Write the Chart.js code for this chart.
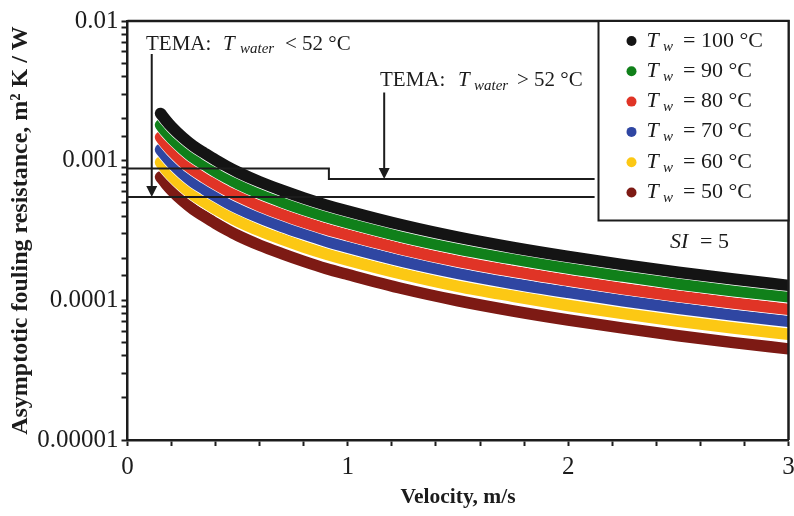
<!DOCTYPE html>
<html>
<head>
<meta charset="utf-8">
<script src="https://cdn.jsdelivr.net/npm/chart.js@4.4.0/dist/chart.umd.min.js"></script>
<style>
  html, body { margin: 0; padding: 0; background: #fff; }
  #wrap { width: 794px; height: 516px; }
</style>
</head>
<body>
<div id="wrap"><canvas id="c" width="794" height="516"></canvas></div>
<script>
// Flow velocity (m/s)
const velocity = [0.15, 0.175, 0.2, 0.25, 0.3, 0.35, 0.4, 0.45, 0.5, 0.6, 0.7, 0.8, 0.9, 1.0, 1.25, 1.5, 1.75, 2.0, 2.25, 2.5, 2.75, 3.0];

// Asymptotic fouling resistance (m2 K / W), SI = 5
const rf100 = [0.00218, 0.00194, 0.00175, 0.00147, 0.00127, 0.00113, 0.00101, 0.000912, 0.000830, 0.000706, 0.000614, 0.000541, 0.000482, 0.000435, 0.000345, 0.000283, 0.000239, 0.000206, 0.000180, 0.000159, 0.000142, 0.000128];
const rf90  = [0.00180, 0.00160, 0.00145, 0.00122, 0.00105, 0.000935, 0.000835, 0.000754, 0.000686, 0.000584, 0.000508, 0.000447, 0.000399, 0.000360, 0.000285, 0.000234, 0.000198, 0.000170, 0.000149, 0.000131, 0.000117, 0.000106];
const rf80  = [0.00147, 0.00131, 0.00118, 0.000989, 0.000855, 0.000760, 0.000680, 0.000614, 0.000559, 0.000475, 0.000413, 0.000364, 0.000324, 0.000293, 0.000232, 0.000190, 0.000161, 0.000139, 0.000121, 0.000107, 0.0000956, 0.0000861];
const rf70  = [0.00120, 0.00107, 0.000966, 0.000811, 0.000701, 0.000624, 0.000558, 0.000503, 0.000458, 0.000390, 0.000339, 0.000299, 0.000266, 0.000240, 0.000190, 0.000156, 0.000132, 0.000114, 0.0000994, 0.0000878, 0.0000784, 0.0000707];
const rf60  = [0.000972, 0.000865, 0.000781, 0.000656, 0.000566, 0.000504, 0.000450, 0.000407, 0.000370, 0.000315, 0.000274, 0.000241, 0.000215, 0.000194, 0.000154, 0.000126, 0.000107, 0.0000919, 0.0000803, 0.0000709, 0.0000633, 0.0000571];
const rf50  = [0.000765, 0.000681, 0.000614, 0.000516, 0.000446, 0.000397, 0.000355, 0.000320, 0.000291, 0.000248, 0.000216, 0.000190, 0.000169, 0.000153, 0.000121, 0.0000993, 0.0000839, 0.0000723, 0.0000632, 0.0000558, 0.0000498, 0.0000449];

const seriesTemps = ['100', '90', '80', '70', '60', '50'];
const seriesValues = [rf100, rf90, rf80, rf70, rf60, rf50];
const seriesColors = ['#141414', '#10801a', '#e03426', '#2f46a2', '#fcc814', '#7d1a14'];

// TEMA design fouling resistances
const temaHighX = [0, 0.914, 0.914, 2.12];
const temaHighY = [0.00088, 0.00088, 0.00074, 0.00074];
const temaLowX = [0, 2.12];
const temaLowY = [0.00055, 0.00055];
const arrowX = [0.11, 1.165];

// Axis labels
const xTickLabels = ['0', '1', '2', '3'];
const yTickLabels = ['0.00001', '0.0001', '0.001', '0.01'];

const SERIF = '"Liberation Serif", "Times New Roman", serif';
const INK = '#1c1c1c';

const toPoints = (xs, ys) => xs.map((x, i) => ({ x: x, y: ys[i] }));

const datasets = [];
seriesValues.forEach((vals, i) => {
  const pts = toPoints(velocity, vals);
  datasets.push({
    label: 'Tw = ' + seriesTemps[i] + ' °C',
    data: pts,
    borderColor: seriesColors[i],
    borderWidth: 11.5,
    borderCapStyle: 'round',
    borderJoinStyle: 'round',
    cubicInterpolationMode: 'monotone',
    pointRadius: 0,
    clip: 0,
    order: 2 * i
  });
  datasets.push({
    label: 'edge' + i,
    data: pts,
    borderColor: '#ffffff',
    borderWidth: 12.8,
    borderCapStyle: 'round',
    borderJoinStyle: 'round',
    cubicInterpolationMode: 'monotone',
    pointRadius: 0,
    clip: 0,
    order: 2 * i + 1
  });
});
datasets.push({
  label: 'TEMA high',
  data: toPoints(temaHighX, temaHighY),
  borderColor: INK, borderWidth: 2, pointRadius: 0, tension: 0, order: -2
});
datasets.push({
  label: 'TEMA low',
  data: toPoints(temaLowX, temaLowY),
  borderColor: INK, borderWidth: 2, pointRadius: 0, tension: 0, order: -2
});

function txt(ctx, s, x, y, font, align) {
  ctx.font = font;
  ctx.textAlign = align || 'left';
  ctx.textBaseline = 'alphabetic';
  ctx.fillText(s, x, y);
}

function arrow(ctx, x, y0, y1) {
  ctx.beginPath();
  ctx.moveTo(x, y0);
  ctx.lineTo(x, y1 - 10);
  ctx.stroke();
  ctx.beginPath();
  ctx.moveTo(x - 5.5, y1 - 11);
  ctx.lineTo(x + 5.5, y1 - 11);
  ctx.lineTo(x, y1);
  ctx.closePath();
  ctx.fill();
}

const decor = {
  id: 'decor',
  afterDatasetsDraw(chart) {
    const ctx = chart.ctx;
    const a = chart.chartArea;
    const xs = chart.scales.x, ys = chart.scales.y;
    ctx.save();
    ctx.strokeStyle = INK;
    ctx.fillStyle = INK;

    // frame: top and right sides
    ctx.lineWidth = 2.5;
    ctx.beginPath();
    ctx.moveTo(a.left, a.top);
    ctx.lineTo(a.right, a.top);
    ctx.lineTo(a.right, a.bottom);
    ctx.stroke();

    // TEMA annotations
    const big = '21px ' + SERIF, bigI = 'italic 21px ' + SERIF, subI = 'italic 15px ' + SERIF;
    txt(ctx, 'TEMA:', 146, 49.5, big);
    txt(ctx, 'T', 223, 49.5, bigI);
    txt(ctx, 'water', 240, 53, subI);
    txt(ctx, '< 52 °C', 285, 49.5, big);

    txt(ctx, 'TEMA:', 380, 86, big);
    txt(ctx, 'T', 458, 86, bigI);
    txt(ctx, 'water', 474, 89.5, subI);
    txt(ctx, '> 52 °C', 517, 86, big);

    ctx.lineWidth = 2;
    arrow(ctx, xs.getPixelForValue(arrowX[0]), 54, ys.getPixelForValue(temaLowY[0]));
    arrow(ctx, xs.getPixelForValue(arrowX[1]), 92.5, ys.getPixelForValue(temaHighY[2]));

    // legend box
    const lx = 598.5, ly = a.top, lw = a.right - 598.5, lh = 199.5;
    ctx.fillStyle = '#fff';
    ctx.fillRect(lx, ly, lw, lh);
    ctx.lineWidth = 2;
    ctx.strokeRect(lx, ly, lw, lh);
    seriesTemps.forEach((t, i) => {
      const base = 46.5 + 30.3 * i;
      ctx.fillStyle = seriesColors[i];
      ctx.beginPath();
      ctx.arc(631.5, base - 5.5, 5, 0, Math.PI * 2);
      ctx.fill();
      ctx.fillStyle = INK;
      txt(ctx, 'T', 646.5, base, 'italic 22px ' + SERIF);
      txt(ctx, 'w', 663, base + 4, 'italic 15px ' + SERIF);
      txt(ctx, '= ' + t + ' °C', 683, base, '22px ' + SERIF);
    });

    // SI label
    ctx.fillStyle = INK;
    txt(ctx, 'SI', 670, 247.5, 'italic 22px ' + SERIF);
    txt(ctx, '= 5', 700, 247.5, '22px ' + SERIF);

    // axis titles
    txt(ctx, 'Velocity, m/s', (a.left + a.right) / 2, 503, 'bold 21.5px ' + SERIF, 'center');
    ctx.translate(26.5, (a.top + a.bottom) / 2);
    ctx.rotate(-Math.PI / 2);
    txt(ctx, 'Asymptotic fouling resistance, m² K / W', 0, 0, 'bold 24px ' + SERIF, 'center');
    ctx.restore();
  }
};

new Chart(document.getElementById('c'), {
  type: 'line',
  data: { datasets: datasets },
  options: {
    responsive: false,
    animation: false,
    devicePixelRatio: 1,
    layout: { padding: { top: 21, right: 5.5, left: 0, bottom: 0 } },
    plugins: { legend: { display: false }, tooltip: { enabled: false } },
    scales: {
      x: {
        type: 'linear',
        min: 0, max: 3,
        border: { display: true, color: INK, width: 2.5 },
        grid: { drawOnChartArea: false, drawTicks: true, tickLength: 6, tickColor: INK, tickWidth: 2 },
        ticks: {
          stepSize: 0.2, autoSkip: false, maxRotation: 0, padding: 6,
          color: INK, font: { family: SERIF, size: 25 },
          callback: (v) => {
            const r = Math.round(v);
            return Math.abs(v - r) < 1e-6 ? xTickLabels[r] : '';
          }
        },
        afterFit: (s) => { s.height = 76; s.paddingLeft = 0; s.paddingRight = 0; }
      },
      y: {
        type: 'logarithmic',
        min: 0.00001, max: 0.01,
        border: { display: true, color: INK, width: 2.5 },
        grid: { drawOnChartArea: false, drawTicks: true, tickLength: 6, tickColor: INK, tickWidth: 2 },
        ticks: {
          autoSkip: false, padding: 3,
          color: INK, font: { family: SERIF, size: 25 },
          callback: (v) => {
            const e = Math.log10(v);
            const r = Math.round(e);
            return Math.abs(e - r) < 1e-6 ? yTickLabels[r + 5] : '';
          }
        },
        afterFit: (s) => { s.width = 127.5; }
      }
    }
  },
  plugins: [decor]
});
</script>
</body>
</html>
